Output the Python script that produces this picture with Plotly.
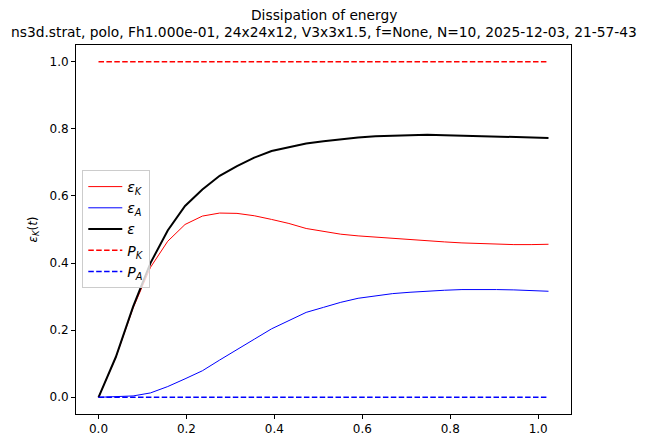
import plotly.graph_objects as go

# time values
t = [0.0, 0.0394, 0.0787, 0.1181, 0.1574, 0.1968, 0.2362, 0.2755, 0.3149, 0.3542,
     0.3936, 0.4330, 0.4723, 0.5117, 0.5510, 0.5904, 0.6298, 0.6691, 0.7085, 0.7478,
     0.7872, 0.8266, 0.8659, 0.9053, 0.9446, 0.9840, 1.0234]

eps_K = [0.0, 0.119, 0.266, 0.387, 0.465, 0.515, 0.540, 0.549, 0.548, 0.541,
         0.530, 0.518, 0.503, 0.495, 0.486, 0.481, 0.477, 0.473, 0.469, 0.466,
         0.463, 0.460, 0.458, 0.456, 0.455, 0.455, 0.456]

eps_A = [0.0, 0.001, 0.004, 0.013, 0.032, 0.055, 0.079, 0.111, 0.141, 0.173,
         0.204, 0.228, 0.253, 0.268, 0.283, 0.295, 0.303, 0.309, 0.313, 0.317,
         0.319, 0.321, 0.322, 0.321, 0.320, 0.318, 0.316]

eps = [0.0, 0.120, 0.270, 0.400, 0.497, 0.570, 0.619, 0.660, 0.689, 0.714,
       0.734, 0.746, 0.756, 0.763, 0.769, 0.774, 0.778, 0.780, 0.781, 0.782,
       0.781, 0.780, 0.779, 0.777, 0.775, 0.774, 0.773]

P_K = [1.0] * len(t)
P_A = [0.0] * len(t)

xticks = [0.0, 0.2, 0.4, 0.6, 0.8, 1.0]
yticks = [0.0, 0.2, 0.4, 0.6, 0.8, 1.0]

title1 = "Dissipation of energy"
title2 = "ns3d.strat, polo, Fh1.000e-01, 24x24x12, V3x3x1.5, f=None, N=10, 2025-12-03, 21-57-43"

FONT = "DejaVu Sans"
DASH = "5.5px,2.4px"

fig = go.Figure()
fig.add_trace(go.Scatter(x=t, y=eps_K, mode="lines", line=dict(color="red", width=1),
                         name="<i>ε</i><sub><i>K</i></sub>"))
fig.add_trace(go.Scatter(x=t, y=eps_A, mode="lines", line=dict(color="blue", width=1),
                         name="<i>ε</i><sub><i>A</i></sub>"))
fig.add_trace(go.Scatter(x=t, y=eps, mode="lines", line=dict(color="black", width=2),
                         name="<i>ε</i>"))
fig.add_trace(go.Scatter(x=t, y=P_K, mode="lines", line=dict(color="red", width=1.5, dash=DASH),
                         name="<i>P</i><sub><i>K</i></sub>"))
fig.add_trace(go.Scatter(x=t, y=P_A, mode="lines", line=dict(color="blue", width=1.5, dash=DASH),
                         name="<i>P</i><sub><i>A</i></sub>"))

L, R, T, B = 76, 74.5, 45, 34
W, H = 646, 448
pw = W - L - R
ph = H - T - B

def px_to_py(y_px):
    return (H - B - y_px) / ph

fig.update_layout(
    width=W, height=H,
    margin=dict(l=L, r=R, t=T, b=B),
    paper_bgcolor="white", plot_bgcolor="white",
    font=dict(family=FONT, size=12, color="black"),
    showlegend=True,
    legend=dict(
        x=(82.3 - L) / pw, y=px_to_py(170.0), xanchor="left", yanchor="top",
        bgcolor="rgba(255,255,255,0.8)", bordercolor="#cccccc", borderwidth=1,
        font=dict(family=FONT, size=14, color="black"),
        itemwidth=34, tracegroupgap=0,
    ),
    xaxis=dict(
        range=[-0.0512, 1.0746], tickvals=xticks, ticktext=[f"{v:.1f}" for v in xticks],
        showgrid=False, zeroline=False, showline=True, linecolor="black", linewidth=1,
        mirror=True, ticks="outside", ticklen=4, tickcolor="black",
        tickfont=dict(family=FONT, size=12, color="black"),
    ),
    yaxis=dict(
        range=[-0.0498, 1.0498], tickvals=yticks, ticktext=[f"{v:.1f}" for v in yticks],
        showgrid=False, zeroline=False, showline=True, linecolor="black", linewidth=1,
        mirror=True, ticks="outside", ticklen=4, tickcolor="black",
        tickfont=dict(family=FONT, size=12, color="black"),
        title=dict(text="<i>ε</i><sub><i>K</i></sub>(<i>t</i>)", font=dict(family=FONT, size=12), standoff=9),
    ),
)

fig.add_annotation(text=title1, x=0.5, y=px_to_py(15.5), xref="paper", yref="paper",
                   xanchor="center", yanchor="middle", showarrow=False,
                   font=dict(family=FONT, size=13.8, color="black"))
fig.add_annotation(text=title2, x=0.5, y=px_to_py(32.0), xref="paper", yref="paper",
                   xanchor="center", yanchor="middle", showarrow=False,
                   font=dict(family=FONT, size=13.8, color="black"))

fig.write_html("out.html")
